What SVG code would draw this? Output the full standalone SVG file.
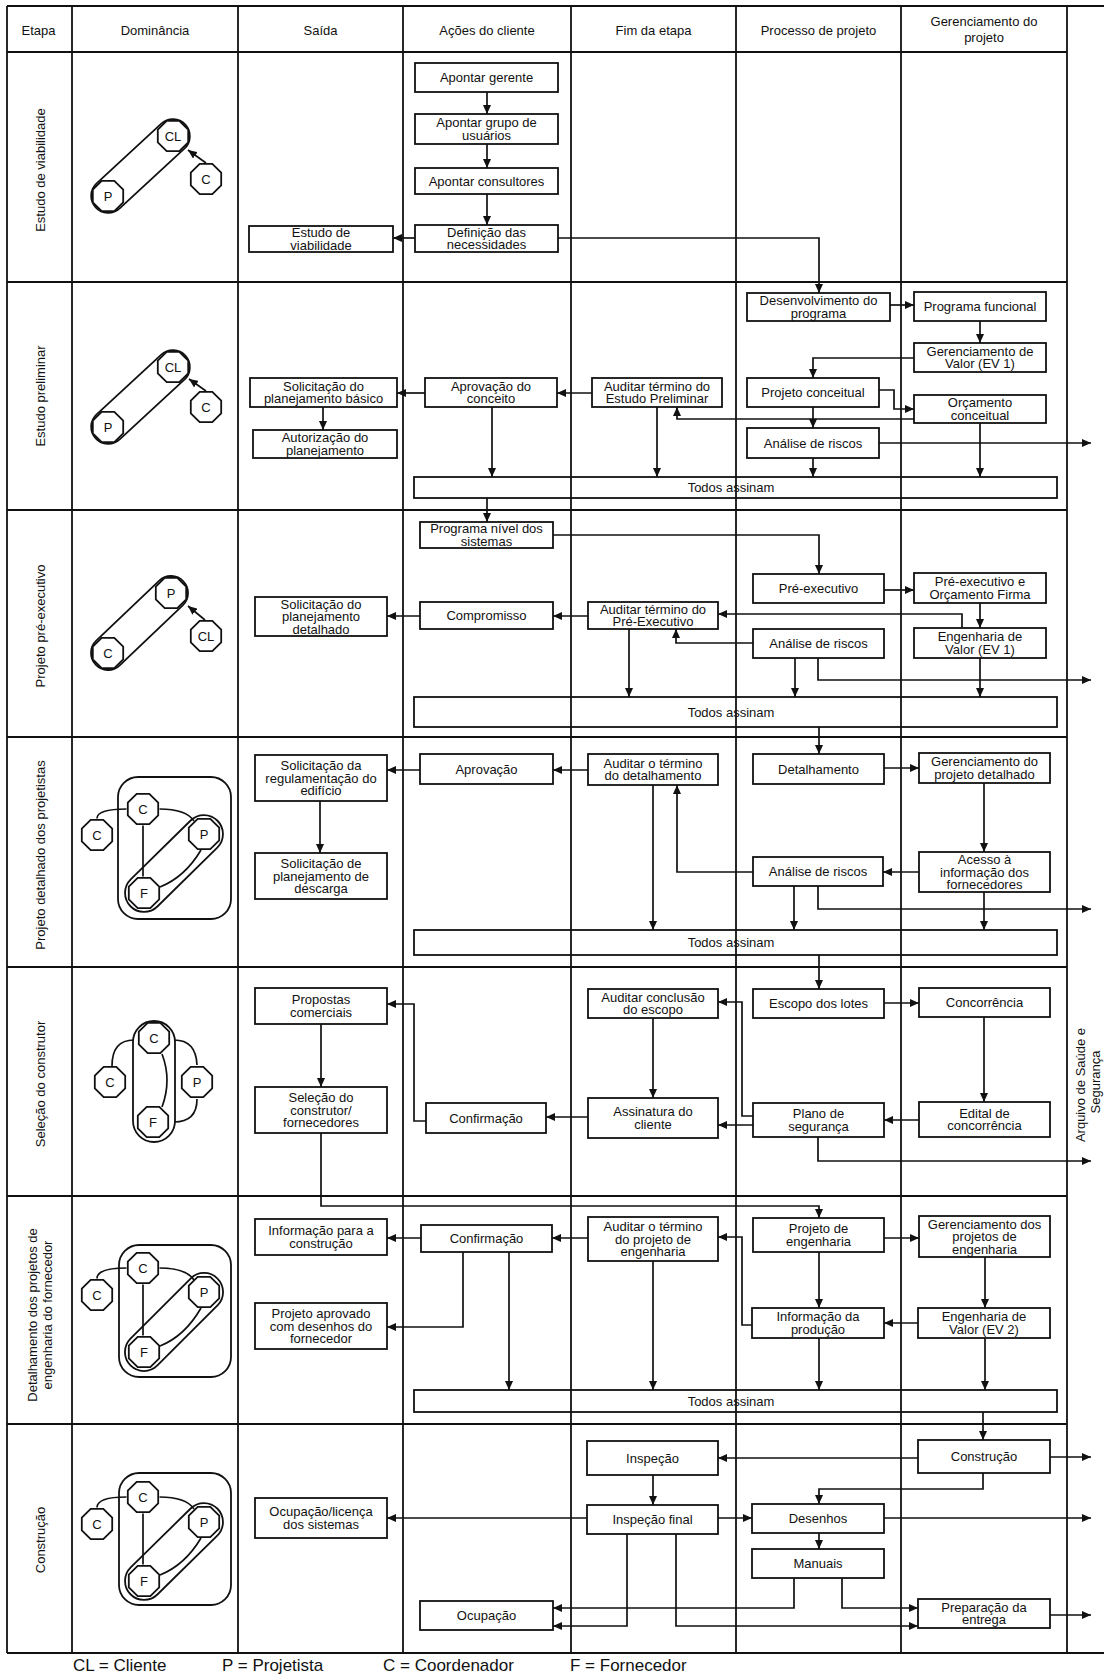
<svg xmlns="http://www.w3.org/2000/svg" width="1104" height="1674" viewBox="0 0 1104 1674">
<defs>
<style>
.g{stroke:#111;stroke-width:1.8;fill:none}
.b{fill:#fff;stroke:#111;stroke-width:1.8}
.bt{fill:none;stroke:#111;stroke-width:1.8}
.c{fill:none;stroke:#111;stroke-width:1.7;marker-end:url(#ah)}
.l{fill:none;stroke:#111;stroke-width:1.7}
.oc{fill:#fff;stroke:#111;stroke-width:1.8}
text{font-family:"Liberation Sans",Arial,sans-serif;font-size:13px;fill:#111}
.m{text-anchor:middle}
.lg{font-size:17px}
</style>
<marker id="ah" markerUnits="userSpaceOnUse" markerWidth="9" markerHeight="8" refX="9" refY="4" orient="auto"><path d="M0,0 L9,4 L0,8 z" fill="#111"/></marker>
<polygon id="oct" points="15.2,6.3 6.3,15.2 -6.3,15.2 -15.2,6.3 -15.2,-6.3 -6.3,-15.2 6.3,-15.2 15.2,-6.3"/>
</defs>
<rect width="1104" height="1674" fill="#fff"/>
<g id="grid">
<path class="g" d="M7,6 H1104 M7,1653 H1104 M7,52 H1067 M7,282 H1067 M7,510 H1067 M7,737 H1067 M7,967 H1067 M7,1196 H1067 M7,1424 H1067"/>
<path class="g" d="M7,6 V1653 M72,6 V1653 M238,6 V1653 M403,6 V1653 M571,6 V1653 M736,6 V1653 M901,6 V1653 M1067,6 V1653"/>
</g>
<g id="headers">
<text class="m" x="38.5" y="34.6">Etapa</text>
<text class="m" x="155" y="34.6">Dominância</text>
<text class="m" x="320.5" y="34.6">Saída</text>
<text class="m" x="487" y="34.6">Ações do cliente</text>
<text class="m" x="653.5" y="34.6">Fim da etapa</text>
<text class="m" x="818.5" y="34.6">Processo de projeto</text>
<text class="m" x="984" y="25.6">Gerenciamento do</text>
<text class="m" x="984" y="41.6">projeto</text>
</g>
<g id="row-labels">
<text class="m" transform="translate(44.6,170) rotate(-90)">Estudo de viabilidade</text>
<text class="m" transform="translate(44.6,396) rotate(-90)">Estudo preliminar</text>
<text class="m" transform="translate(44.6,626) rotate(-90)">Projeto pré-executivo</text>
<text class="m" transform="translate(44.6,855) rotate(-90)">Projeto detalhado dos projetistas</text>
<text class="m" transform="translate(44.6,1084) rotate(-90)">Seleção do construtor</text>
<text class="m" transform="translate(36.6,1315) rotate(-90)">Detalhamento dos projetos de</text>
<text class="m" transform="translate(51.6,1315) rotate(-90)">engenharia do fornecedor</text>
<text class="m" transform="translate(44.6,1540) rotate(-90)">Construção</text>
<text class="m" transform="translate(1084.6,1085) rotate(-90)">Arquivo de Saúde e</text>
<text class="m" transform="translate(1099.6,1082) rotate(-90)">Segurança</text>
</g>
<g id="dominance">
<g id="dom-1">
<rect class="oc" x="-61" y="-17" width="122" height="34" rx="17" transform="translate(140.5,166) rotate(-42.7)"/>
<use href="#oct" x="108" y="196" class="oc"/><use href="#oct" x="173" y="136" class="oc"/><use href="#oct" x="206" y="179" class="oc"/>
<path class="c" d="M206,163 L188,150"/>
<text class="m" x="108" y="200.6">P</text><text class="m" x="173" y="140.6">CL</text><text class="m" x="206" y="183.6">C</text>
</g>
<g id="dom-2">
<rect class="oc" x="-61" y="-17" width="122" height="34" rx="17" transform="translate(140.5,397) rotate(-42.7)"/>
<use href="#oct" x="108" y="427" class="oc"/><use href="#oct" x="173" y="367" class="oc"/><use href="#oct" x="206" y="407" class="oc"/>
<path class="c" d="M206,391 L189,379"/>
<text class="m" x="108" y="431.6">P</text><text class="m" x="173" y="371.6">CL</text><text class="m" x="206" y="411.6">C</text>
</g>
<g id="dom-3">
<rect class="oc" x="-60.5" y="-17" width="121" height="34" rx="17" transform="translate(139.5,623) rotate(-43.6)"/>
<use href="#oct" x="108" y="653" class="oc"/><use href="#oct" x="171" y="593" class="oc"/><use href="#oct" x="206" y="636" class="oc"/>
<path class="c" d="M205,620 L188,606"/>
<text class="m" x="108" y="657.6">C</text><text class="m" x="171" y="597.6">P</text><text class="m" x="206" y="640.6">CL</text>
</g>
<g id="dom-4">
<rect class="bt" x="118" y="777" width="113" height="142" rx="20"/>
<path class="l" d="M97,818.5 Q97,809 126.5,809 M159.5,809 Q186,809 194,821 M143,825.5 V876.5"/>
<rect class="bt" x="-61" y="-19" width="122" height="38" rx="19" transform="translate(174,863.5) rotate(-44.5)"/>
<path class="l" d="M160,887 Q185,877 201,850"/>
<use href="#oct" x="97" y="835" class="oc"/><use href="#oct" x="143" y="809" class="oc"/><use href="#oct" x="204" y="834" class="oc"/><use href="#oct" x="144" y="893" class="oc"/>
<text class="m" x="97" y="839.6">C</text><text class="m" x="143" y="813.6">C</text><text class="m" x="204" y="838.6">P</text><text class="m" x="144" y="897.6">F</text>
</g>
<g id="dom-5">
<path class="l" d="M112,1066 Q112,1040 134,1040 M174,1040 Q196,1040 197,1065 M197,1099 Q197,1122 174,1122"/>
<rect class="bt" x="133" y="1021" width="42" height="121" rx="21"/>
<path class="l" d="M162,1054 Q172,1080 162,1107"/>
<use href="#oct" x="154" y="1038" class="oc"/><use href="#oct" x="110" y="1082" class="oc"/><use href="#oct" x="197" y="1082" class="oc"/><use href="#oct" x="153" y="1122" class="oc"/>
<text class="m" x="154" y="1042.6">C</text><text class="m" x="110" y="1086.6">C</text><text class="m" x="197" y="1086.6">P</text><text class="m" x="153" y="1126.6">F</text>
</g>
<g id="dom-6">
<rect class="bt" x="119" y="1245" width="112" height="132" rx="20"/>
<path class="l" d="M97,1278.5 Q97,1268 126.5,1268 M159.5,1268 Q186,1268 194,1280 M143,1284.5 V1335.5"/>
<rect class="bt" x="-61.5" y="-19" width="123" height="38" rx="19" transform="translate(174,1322) rotate(-45)"/>
<path class="l" d="M160,1346 Q185,1336 201,1308"/>
<use href="#oct" x="97" y="1295" class="oc"/><use href="#oct" x="143" y="1268" class="oc"/><use href="#oct" x="204" y="1292" class="oc"/><use href="#oct" x="144" y="1352" class="oc"/>
<text class="m" x="97" y="1299.6">C</text><text class="m" x="143" y="1272.6">C</text><text class="m" x="204" y="1296.6">P</text><text class="m" x="144" y="1356.6">F</text>
</g>
<g id="dom-7">
<rect class="bt" x="119" y="1473" width="112" height="132" rx="20"/>
<path class="l" d="M97,1507.5 Q97,1497 126.5,1497 M159.5,1497 Q186,1497 194,1509 M143,1513.5 V1564.5"/>
<rect class="bt" x="-61" y="-19" width="122" height="38" rx="19" transform="translate(174,1551.5) rotate(-44.5)"/>
<path class="l" d="M160,1575 Q185,1565 201,1538"/>
<use href="#oct" x="97" y="1524" class="oc"/><use href="#oct" x="143" y="1497" class="oc"/><use href="#oct" x="204" y="1522" class="oc"/><use href="#oct" x="144" y="1581" class="oc"/>
<text class="m" x="97" y="1528.6">C</text><text class="m" x="143" y="1501.6">C</text><text class="m" x="204" y="1526.6">P</text><text class="m" x="144" y="1585.6">F</text>
</g>
</g>
<g id="connectors">
<path class="c" d="M487,92 V114"/>
<path class="c" d="M487,144 V168"/>
<path class="c" d="M487,194 V225"/>
<path class="c" d="M415,238 H393"/>
<path class="c" d="M558,238 H819 V293"/>
<path class="c" d="M890,305 H914"/>
<path class="c" d="M980,321 V343"/>
<path class="c" d="M914,358 H813 V378"/>
<path class="c" d="M879,390 H894 V409 H914"/>
<path class="c" d="M813,407 V428"/>
<path class="c" d="M879,443 H1091"/>
<path class="c" d="M813,458 V477"/>
<path class="c" d="M980,423 V477"/>
<path class="c" d="M914,419 H677 V407"/>
<path class="c" d="M592,393 H557"/>
<path class="c" d="M425,393 H397"/>
<path class="c" d="M323,407 V430"/>
<path class="c" d="M492,407 V477"/>
<path class="c" d="M657,407 V477"/>
<path class="c" d="M487,498 V522"/>
<path class="c" d="M553,535 H819 V574"/>
<path class="c" d="M884,590 H914"/>
<path class="c" d="M980,603 V628"/>
<path class="c" d="M962,628 V614 H718"/>
<path class="c" d="M753,643 H676 V629"/>
<path class="c" d="M588,616 H553"/>
<path class="c" d="M420,616 H387"/>
<path class="c" d="M629,629 V697"/>
<path class="c" d="M795,658 V697"/>
<path class="c" d="M818,658 V680 H1091"/>
<path class="c" d="M980,658 V697"/>
<path class="c" d="M819,727 V754"/>
<path class="c" d="M884,768 H919"/>
<path class="c" d="M984,783 V852"/>
<path class="c" d="M919,872 H883"/>
<path class="c" d="M753,872 H677 V785"/>
<path class="c" d="M588,770 H553"/>
<path class="c" d="M420,770 H387"/>
<path class="c" d="M320,801 V853"/>
<path class="c" d="M653,785 V930"/>
<path class="c" d="M794,886 V930"/>
<path class="c" d="M818,886 V909 H1091"/>
<path class="c" d="M984,892 V930"/>
<path class="c" d="M819,955 V989"/>
<path class="c" d="M884,1003 H919"/>
<path class="c" d="M984,1017 V1102"/>
<path class="c" d="M919,1120 H884"/>
<path class="c" d="M753,1116 H742 V1002 H718"/>
<path class="c" d="M753,1125 H718"/>
<path class="c" d="M653,1018 V1098"/>
<path class="c" d="M588,1117 H546"/>
<path class="c" d="M426,1121 H414 V1004 H387"/>
<path class="c" d="M321,1024 V1087"/>
<path class="c" d="M321,1133 V1206 H819 V1218"/>
<path class="c" d="M818,1137 V1161 H1091"/>
<path class="c" d="M884,1238 H919"/>
<path class="c" d="M752,1325 H742 V1237 H718"/>
<path class="c" d="M588,1238 H552"/>
<path class="c" d="M421,1238 H387"/>
<path class="c" d="M463,1252 V1327 H387"/>
<path class="c" d="M509,1252 V1390"/>
<path class="c" d="M653,1261 V1390"/>
<path class="c" d="M819,1252 V1308"/>
<path class="c" d="M985,1257 V1308"/>
<path class="c" d="M918,1323 H884"/>
<path class="c" d="M819,1338 V1390"/>
<path class="c" d="M985,1338 V1390"/>
<path class="c" d="M983,1412 V1440"/>
<path class="c" d="M1050,1457 H1091"/>
<path class="c" d="M918,1458 H718"/>
<path class="c" d="M653,1475 V1505"/>
<path class="c" d="M587,1518 H387"/>
<path class="c" d="M718,1518 H752"/>
<path class="c" d="M983,1473 V1489 H819 V1504"/>
<path class="c" d="M884,1518 H1091"/>
<path class="c" d="M819,1533 V1549"/>
<path class="c" d="M794,1578 V1608 H553"/>
<path class="c" d="M842,1578 V1608 H918"/>
<path class="c" d="M627,1534 V1626 H553"/>
<path class="c" d="M676,1534 V1626 H918"/>
<path class="c" d="M1050,1615 H1091"/>
</g>
<g id="nodes">
<g id="s1"><rect class="b" x="249" y="226" width="144" height="26"/><text class="m" x="321"><tspan x="321" y="237.4">Estudo de</tspan><tspan x="321" y="249.9">viabilidade</tspan></text></g>
<g id="s2"><rect class="b" x="250" y="378" width="147" height="29"/><text class="m"><tspan x="323.5" y="390.9">Solicitação do</tspan><tspan x="323.5" y="403.4">planejamento básico</tspan></text></g>
<g id="s3"><rect class="b" x="253" y="430" width="144" height="28"/><text class="m"><tspan x="325" y="442.4">Autorização do</tspan><tspan x="325" y="454.9">planejamento</tspan></text></g>
<g id="s4"><rect class="b" x="255" y="597" width="132" height="39"/><text class="m"><tspan x="321" y="608.6">Solicitação do</tspan><tspan x="321" y="621.1">planejamento</tspan><tspan x="321" y="633.6">detalhado</tspan></text></g>
<g id="s5"><rect class="b" x="255" y="755" width="132" height="46"/><text class="m"><tspan x="321" y="770.1">Solicitação da</tspan><tspan x="321" y="782.6">regulamentação do</tspan><tspan x="321" y="795.1">edifício</tspan></text></g>
<g id="s6"><rect class="b" x="255" y="853" width="132" height="46"/><text class="m"><tspan x="321" y="868.1">Solicitação de</tspan><tspan x="321" y="880.6">planejamento de</tspan><tspan x="321" y="893.1">descarga</tspan></text></g>
<g id="s7"><rect class="b" x="255" y="988" width="132" height="36"/><text class="m"><tspan x="321" y="1004.4">Propostas</tspan><tspan x="321" y="1016.9">comerciais</tspan></text></g>
<g id="s8"><rect class="b" x="255" y="1087" width="132" height="46"/><text class="m"><tspan x="321" y="1102.1">Seleção do</tspan><tspan x="321" y="1114.6">construtor/</tspan><tspan x="321" y="1127.1">fornecedores</tspan></text></g>
<g id="s9"><rect class="b" x="255" y="1219" width="132" height="36"/><text class="m"><tspan x="321" y="1235.4">Informação para a</tspan><tspan x="321" y="1247.9">construção</tspan></text></g>
<g id="s10"><rect class="b" x="255" y="1303" width="132" height="46"/><text class="m"><tspan x="321" y="1318.1">Projeto aprovado</tspan><tspan x="321" y="1330.6">com desenhos do</tspan><tspan x="321" y="1343.1">fornecedor</tspan></text></g>
<g id="s11"><rect class="b" x="255" y="1498" width="132" height="40"/><text class="m"><tspan x="321" y="1516.4">Ocupação/licença</tspan><tspan x="321" y="1528.9">dos sistemas</tspan></text></g>
<g id="a1"><rect class="b" x="415" y="63" width="143" height="29"/><text class="m" x="486.5" y="82.1">Apontar gerente</text></g>
<g id="a2"><rect class="b" x="415" y="114" width="143" height="30"/><text class="m"><tspan x="486.5" y="127.4">Apontar grupo de</tspan><tspan x="486.5" y="139.9">usuários</tspan></text></g>
<g id="a3"><rect class="b" x="415" y="168" width="143" height="26"/><text class="m" x="486.5" y="185.6">Apontar consultores</text></g>
<g id="a4"><rect class="b" x="415" y="225" width="143" height="27"/><text class="m"><tspan x="486.5" y="236.9">Definição das</tspan><tspan x="486.5" y="249.4">necessidades</tspan></text></g>
<g id="a5"><rect class="b" x="425" y="378" width="132" height="29"/><text class="m"><tspan x="491" y="390.9">Aprovação do</tspan><tspan x="491" y="403.4">conceito</tspan></text></g>
<g id="a6"><rect class="b" x="420" y="522" width="133" height="26"/><text class="m"><tspan x="486.5" y="533.4">Programa nível dos</tspan><tspan x="486.5" y="545.9">sistemas</tspan></text></g>
<g id="a7"><rect class="b" x="420" y="602" width="133" height="27"/><text class="m" x="486.5" y="620.1">Compromisso</text></g>
<g id="a8"><rect class="b" x="420" y="754" width="133" height="30"/><text class="m" x="486.5" y="773.6">Aprovação</text></g>
<g id="a9"><rect class="b" x="426" y="1103" width="120" height="30"/><text class="m" x="486" y="1122.6">Confirmação</text></g>
<g id="a10"><rect class="b" x="421" y="1225" width="131" height="27"/><text class="m" x="486.5" y="1243.1">Confirmação</text></g>
<g id="a11"><rect class="b" x="420" y="1601" width="133" height="29"/><text class="m" x="486.5" y="1620.1">Ocupação</text></g>
<g id="f1"><rect class="b" x="592" y="378" width="130" height="29"/><text class="m"><tspan x="657" y="390.9">Auditar término do</tspan><tspan x="657" y="403.4">Estudo Preliminar</tspan></text></g>
<g id="f2"><rect class="b" x="588" y="602" width="130" height="27"/><text class="m"><tspan x="653" y="613.9">Auditar término do</tspan><tspan x="653" y="626.4">Pré-Executivo</tspan></text></g>
<g id="f3"><rect class="b" x="588" y="754" width="130" height="31"/><text class="m"><tspan x="653" y="767.9">Auditar o término</tspan><tspan x="653" y="780.4">do detalhamento</tspan></text></g>
<g id="f4"><rect class="b" x="588" y="989" width="130" height="29"/><text class="m"><tspan x="653" y="1001.9">Auditar conclusão</tspan><tspan x="653" y="1014.4">do escopo</tspan></text></g>
<g id="f5"><rect class="b" x="588" y="1098" width="130" height="40"/><text class="m"><tspan x="653" y="1116.4">Assinatura do</tspan><tspan x="653" y="1128.9">cliente</tspan></text></g>
<g id="f6"><rect class="b" x="588" y="1217" width="130" height="44"/><text class="m"><tspan x="653" y="1231.1">Auditar o término</tspan><tspan x="653" y="1243.6">do projeto de</tspan><tspan x="653" y="1256.1">engenharia</tspan></text></g>
<g id="f7"><rect class="b" x="587" y="1441" width="131" height="34"/><text class="m" x="652.5" y="1462.6">Inspeção</text></g>
<g id="f8"><rect class="b" x="587" y="1505" width="131" height="29"/><text class="m" x="652.5" y="1524.1">Inspeção final</text></g>
<g id="p1"><rect class="b" x="747" y="293" width="143" height="28"/><text class="m"><tspan x="818.5" y="305.4">Desenvolvimento do</tspan><tspan x="818.5" y="317.9">programa</tspan></text></g>
<g id="p2"><rect class="b" x="747" y="378" width="132" height="29"/><text class="m" x="813" y="397.1">Projeto conceitual</text></g>
<g id="p3"><rect class="b" x="747" y="428" width="132" height="30"/><text class="m" x="813" y="447.6">Análise de riscos</text></g>
<g id="p4"><rect class="b" x="753" y="574" width="131" height="29"/><text class="m" x="818.5" y="593.1">Pré-executivo</text></g>
<g id="p5"><rect class="b" x="753" y="629" width="131" height="29"/><text class="m" x="818.5" y="648.1">Análise de riscos</text></g>
<g id="p6"><rect class="b" x="753" y="754" width="131" height="30"/><text class="m" x="818.5" y="773.6">Detalhamento</text></g>
<g id="p7"><rect class="b" x="753" y="857" width="130" height="29"/><text class="m" x="818" y="876.1">Análise de riscos</text></g>
<g id="p8"><rect class="b" x="753" y="989" width="131" height="29"/><text class="m" x="818.5" y="1008.1">Escopo dos lotes</text></g>
<g id="p9"><rect class="b" x="753" y="1103" width="131" height="34"/><text class="m"><tspan x="818.5" y="1118.4">Plano de</tspan><tspan x="818.5" y="1130.9">segurança</tspan></text></g>
<g id="p10"><rect class="b" x="753" y="1218" width="131" height="34"/><text class="m"><tspan x="818.5" y="1233.4">Projeto de</tspan><tspan x="818.5" y="1245.9">engenharia</tspan></text></g>
<g id="p11"><rect class="b" x="752" y="1308" width="132" height="30"/><text class="m"><tspan x="818" y="1321.4">Informação da</tspan><tspan x="818" y="1333.9">produção</tspan></text></g>
<g id="p12"><rect class="b" x="752" y="1504" width="132" height="29"/><text class="m" x="818" y="1523.1">Desenhos</text></g>
<g id="p13"><rect class="b" x="752" y="1549" width="132" height="29"/><text class="m" x="818" y="1568.1">Manuais</text></g>
<g id="g1"><rect class="b" x="914" y="292" width="132" height="29"/><text class="m" x="980" y="311.1">Programa funcional</text></g>
<g id="g2"><rect class="b" x="914" y="343" width="132" height="29"/><text class="m"><tspan x="980" y="355.9">Gerenciamento de</tspan><tspan x="980" y="368.4">Valor (EV 1)</tspan></text></g>
<g id="g3"><rect class="b" x="914" y="395" width="132" height="28"/><text class="m"><tspan x="980" y="407.4">Orçamento</tspan><tspan x="980" y="419.9">conceitual</tspan></text></g>
<g id="g4"><rect class="b" x="914" y="573" width="132" height="30"/><text class="m"><tspan x="980" y="586.4">Pré-executivo e</tspan><tspan x="980" y="598.9">Orçamento Firma</tspan></text></g>
<g id="g5"><rect class="b" x="914" y="628" width="132" height="30"/><text class="m"><tspan x="980" y="641.4">Engenharia de</tspan><tspan x="980" y="653.9">Valor (EV 1)</tspan></text></g>
<g id="g6"><rect class="b" x="919" y="753" width="131" height="30"/><text class="m"><tspan x="984.5" y="766.4">Gerenciamento do</tspan><tspan x="984.5" y="778.9">projeto detalhado</tspan></text></g>
<g id="g7"><rect class="b" x="919" y="852" width="131" height="40"/><text class="m"><tspan x="984.5" y="864.1">Acesso à</tspan><tspan x="984.5" y="876.6">informação dos</tspan><tspan x="984.5" y="889.1">fornecedores</tspan></text></g>
<g id="g8"><rect class="b" x="919" y="988" width="131" height="29"/><text class="m" x="984.5" y="1007.1">Concorrência</text></g>
<g id="g9"><rect class="b" x="919" y="1102" width="131" height="35"/><text class="m"><tspan x="984.5" y="1117.9">Edital de</tspan><tspan x="984.5" y="1130.4">concorrência</tspan></text></g>
<g id="g10"><rect class="b" x="919" y="1216" width="131" height="41"/><text class="m"><tspan x="984.5" y="1228.6">Gerenciamento dos</tspan><tspan x="984.5" y="1241.1">projetos de</tspan><tspan x="984.5" y="1253.6">engenharia</tspan></text></g>
<g id="g11"><rect class="b" x="918" y="1308" width="132" height="30"/><text class="m"><tspan x="984" y="1321.4">Engenharia de</tspan><tspan x="984" y="1333.9">Valor (EV 2)</tspan></text></g>
<g id="g12"><rect class="b" x="918" y="1440" width="132" height="33"/><text class="m" x="984" y="1461.1">Construção</text></g>
<g id="g13"><rect class="b" x="918" y="1599" width="132" height="29"/><text class="m"><tspan x="984" y="1611.9">Preparação da</tspan><tspan x="984" y="1624.4">entrega</tspan></text></g>
<g id="t1"><rect class="bt" x="414" y="477" width="643" height="21"/><text class="m" x="731" y="492.1">Todos assinam</text></g>
<g id="t2"><rect class="bt" x="414" y="697" width="643" height="30"/><text class="m" x="731" y="716.6">Todos assinam</text></g>
<g id="t3"><rect class="bt" x="414" y="930" width="643" height="25"/><text class="m" x="731" y="947.1">Todos assinam</text></g>
<g id="t4"><rect class="bt" x="414" y="1390" width="643" height="22"/><text class="m" x="731" y="1405.6">Todos assinam</text></g>
</g>
<g id="legend">
<text class="lg" x="73" y="1671">CL = Cliente</text>
<text class="lg" x="222" y="1671">P = Projetista</text>
<text class="lg" x="383" y="1671">C = Coordenador</text>
<text class="lg" x="570" y="1671">F = Fornecedor</text>
</g>
</svg>
